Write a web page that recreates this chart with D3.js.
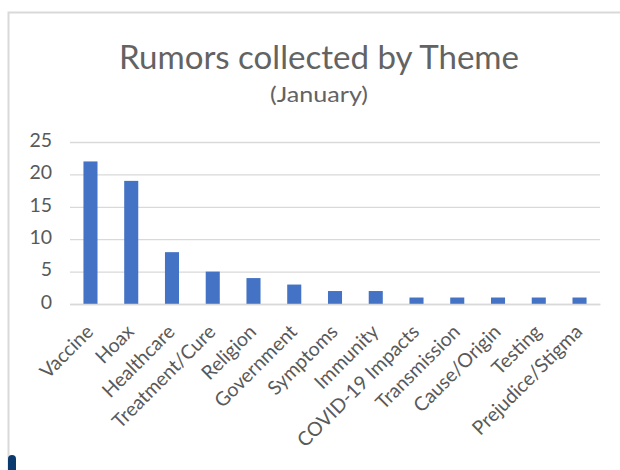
<!DOCTYPE html>
<html><head><meta charset="utf-8">
<script src="https://cdn.jsdelivr.net/npm/d3@7"></script>
<style>body{margin:0;background:#fff}svg{display:block}</style>
</head><body>
<script>
const categories = ["Vaccine","Hoax","Healthcare","Treatment/Cure","Religion","Government","Symptoms","Immunity","COVID-19 Impacts","Transmission","Cause/Origin","Testing","Prejudice/Stigma"];
const values = [22,19,8,5,4,3,2,2,1,1,1,1,1];
const yTicks = [0,5,10,15,20,25];
const title = "Rumors collected by Theme";
const subtitle = "(January)";

const W=620,H=470;
const svg=d3.select("body").append("svg").attr("width",W).attr("height",H);
const font="Lato, 'Open Sans', sans-serif";
const grey="#595959";

// chart border
svg.append("path").attr("d","M8.5,470 V12.5 H620").attr("fill","none").attr("stroke","#d9d9d9").attr("stroke-width",2);
svg.append("rect").attr("x",8).attr("y",455).attr("width",8).attr("height",20).attr("rx",4).attr("fill","#0b3a6e");

const x=d3.scaleBand().domain(categories).range([70,600]).paddingInner(0.655).paddingOuter(0.33);
const y=d3.scaleLinear().domain([0,25]).range([304,142]);

svg.append("text").attr("x",319).attr("y",69).attr("text-anchor","middle")
  .attr("font-family",font).attr("font-size",33).attr("fill","#636363").attr("textLength",400).attr("lengthAdjust","spacingAndGlyphs").text(title);
svg.append("text").attr("x",319).attr("y",102).attr("text-anchor","middle")
  .attr("font-family",font).attr("font-size",21).attr("fill","#636363").attr("textLength",98).attr("lengthAdjust","spacingAndGlyphs").text(subtitle);

const gy=svg.append("g").attr("transform","translate(70,0)")
  .call(d3.axisLeft(y).tickValues(yTicks).tickSize(-530).tickPadding(18));
gy.select(".domain").remove();
gy.selectAll(".tick line").attr("stroke","#d9d9d9").attr("stroke-width",1.3);
gy.selectAll(".tick text").attr("font-family",font).attr("font-size",19.5).attr("fill",grey).attr("dy","0.22em");

svg.selectAll("rect.bar").data(values).join("rect").attr("class","bar")
  .attr("x",(d,i)=>x(categories[i])).attr("width",x.bandwidth())
  .attr("y",d=>y(d)).attr("height",d=>y(0)-y(d)).attr("fill","#4472c4");

const gx=svg.append("g").attr("transform","translate(0,304)")
  .call(d3.axisBottom(x).tickSize(0).tickPadding(0));
gx.select(".domain").attr("stroke","#d9d9d9").attr("stroke-width",1.3);
gx.selectAll(".tick text").attr("font-family",font).attr("font-size",19.5).attr("fill",grey)
  .attr("text-anchor","end").attr("dy",null).attr("y",0)
  .attr("transform","translate(4,29) rotate(-45)");
</script>
</body></html>
